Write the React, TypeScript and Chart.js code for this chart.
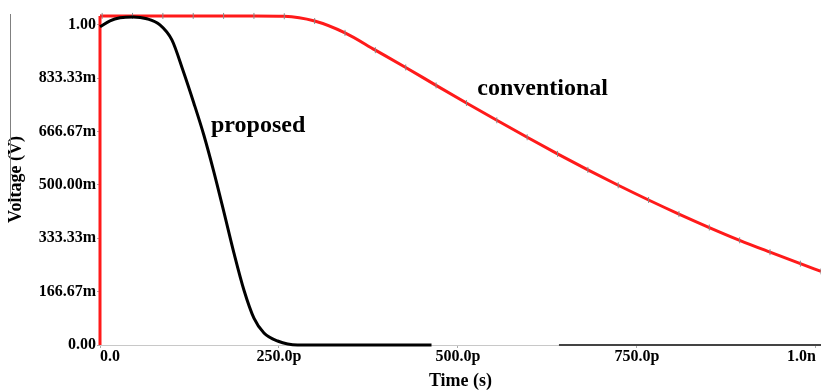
import React, { useEffect, useRef } from "react";
import { Chart, registerables } from "chart.js";

Chart.register(...registerables);

// Axis ticks
const xTickValues = [0, 250, 500, 750, 1000];
const xTickLabels = ["0.0", "250.0p", "500.0p", "750.0p", "1.0n"];
const yTickValues = [0, 1 / 6, 2 / 6, 3 / 6, 4 / 6, 5 / 6, 1];
const yTickLabels = ["0.00", "166.67m", "333.33m", "500.00m", "666.67m", "833.33m", "1.00"];

// Conventional (red) – time in ps, voltage in V
const conventionalStartTime = [0, 0];
const conventionalStartVolt = [0, 1.028];
const conventionalTime = [
  0, 3, 45.4, 87.8, 130.2, 172.6, 215, 257.4, 299.8, 342.2, 384.6, 427, 469.4, 511.8,
  554.2, 596.6, 639, 681.4, 723.8, 766.2, 808.6, 851, 893.4, 935.8, 978.2, 1007,
];
const conventionalVolt = [
  1.028, 1.028, 1.028, 1.028, 1.028, 1.028, 1.028, 1.027, 1.012, 0.975, 0.921, 0.867, 0.811,
  0.756, 0.702, 0.649, 0.597, 0.547, 0.499, 0.453, 0.409, 0.367, 0.327, 0.29, 0.254, 0.23,
];

// Proposed (black)
const proposedTime = [0, 14, 28, 46, 65.5, 83.7, 100.4, 115.7, 131, 145, 159, 173, 187, 201, 215, 229, 248, 276, 463];
const proposedVolt = [
  0.994, 1.0125, 1.022, 1.025, 1.019, 1.0, 0.953, 0.859, 0.756, 0.656, 0.541, 0.416, 0.288,
  0.172, 0.084, 0.0375, 0.0125, 0, 0,
];
const proposedTailTime = [641, 1007];
const proposedTailVolt = [0, 0];

// Curve labels (anchor in data space)
const curveLabelText = ["proposed", "conventional"];
const curveLabelTime = [155, 527];
const curveLabelVolt = [0.684, 0.8];

const FONT = "'Liberation Serif', 'Times New Roman', serif";

const zip = (xs: number[], ys: number[]) => xs.map((x, i) => ({ x, y: ys[i] }));

const labelPlugin = {
  id: "curveLabels",
  afterDatasetsDraw(chart: any) {
    const { ctx, scales } = chart;
    ctx.save();
    ctx.font = `bold 24px ${FONT}`;
    ctx.fillStyle = "#000";
    ctx.textAlign = "left";
    ctx.textBaseline = "middle";
    curveLabelText.forEach((t, i) => {
      ctx.fillText(t, scales.x.getPixelForValue(curveLabelTime[i]), scales.y.getPixelForValue(curveLabelVolt[i]));
    });
    ctx.restore();
  },
};

export default function App() {
  const ref = useRef<HTMLCanvasElement | null>(null);

  useEffect(() => {
    if (!ref.current) return;
    const chart = new Chart(ref.current, {
      type: "line",
      data: {
        datasets: [
          {
            data: zip(proposedTime, proposedVolt),
            borderColor: "#000",
            borderWidth: 3,
            pointRadius: 0,
            cubicInterpolationMode: "monotone",
            clip: false,
          },
          {
            data: zip(proposedTailTime, proposedTailVolt),
            borderColor: "#444",
            borderWidth: 2,
            pointRadius: 0,
            clip: false,
          },
          {
            data: zip(conventionalStartTime, conventionalStartVolt),
            borderColor: "#ff1a1a",
            borderWidth: 3,
            pointRadius: 0,
            clip: false,
          },
          {
            data: zip(conventionalTime, conventionalVolt),
            borderColor: "#ff1a1a",
            borderWidth: 3,
            cubicInterpolationMode: "monotone",
            pointRadius: (c: any) => (c.dataIndex === 0 ? 0 : 3),
            pointStyle: "line",
            rotation: 90,
            pointBorderColor: "#8a8a8a",
            pointBorderWidth: 1,
            clip: false,
          } as any,
        ],
      },
      options: {
        animation: false,
        responsive: false,
        parsing: false as any,
        layout: { autoPadding: false, padding: { top: 14, left: 0, right: 0, bottom: 0 } },
        plugins: { legend: { display: false }, tooltip: { enabled: false } },
        scales: {
          x: {
            type: "linear",
            min: 0,
            max: 1007,
            afterBuildTicks: (s: any) => {
              s.ticks = xTickValues.map((v) => ({ value: v }));
            },
            afterFit: (s: any) => {
              s.height = 47;
              s.paddingRight = 0;
              s.paddingLeft = 0;
            },
            ticks: {
              callback: (v: any) => xTickLabels[xTickValues.indexOf(Number(v))],
              font: { family: FONT, size: 16, weight: "bold" },
              color: "#000",
              align: "inner",
              padding: -1,
              maxRotation: 0,
              autoSkip: false,
            },
            grid: { drawOnChartArea: false, tickLength: 3, color: "#aaa" },
            border: { color: "#c8c8c8" },
            title: {
              display: true,
              text: "Time (s)",
              font: { family: FONT, size: 18, weight: "bold" },
              color: "#000",
              padding: { top: 0, bottom: 0 },
            },
          },
          y: {
            type: "linear",
            min: 0,
            max: 1.034,
            afterBuildTicks: (s: any) => {
              s.ticks = yTickValues.map((v) => ({ value: v }));
            },
            afterFit: (s: any) => {
              s.width = 100;
            },
            ticks: {
              callback: (v: any) => {
                const i = yTickValues.findIndex((t) => Math.abs(t - Number(v)) < 1e-9);
                return i >= 0 ? yTickLabels[i] : "";
              },
              font: { family: FONT, size: 16, weight: "bold" },
              color: "#000",
              padding: 1,
              autoSkip: false,
            },
            grid: { drawOnChartArea: false, tickLength: 3, color: "#aaa" },
            border: { color: "#c8c8c8" },
            title: {
              display: true,
              text: "Voltage (V)",
              font: { family: FONT, size: 18, weight: "bold" },
              color: "#000",
              padding: { top: 6, bottom: 0 },
            },
          },
        },
      },
      plugins: [labelPlugin],
    } as any);
    return () => chart.destroy();
  }, []);

  return (
    <div style={{ position: "fixed", left: 0, top: 0, width: 821, height: 392, background: "#fff" }}>
      <canvas ref={ref} width={821} height={392} style={{ display: "block" }} />
      <div
        style={{
          position: "absolute",
          left: 10,
          top: 14,
          width: 1,
          height: 190,
          background: "#808080",
        }}
      />
    </div>
  );
}
